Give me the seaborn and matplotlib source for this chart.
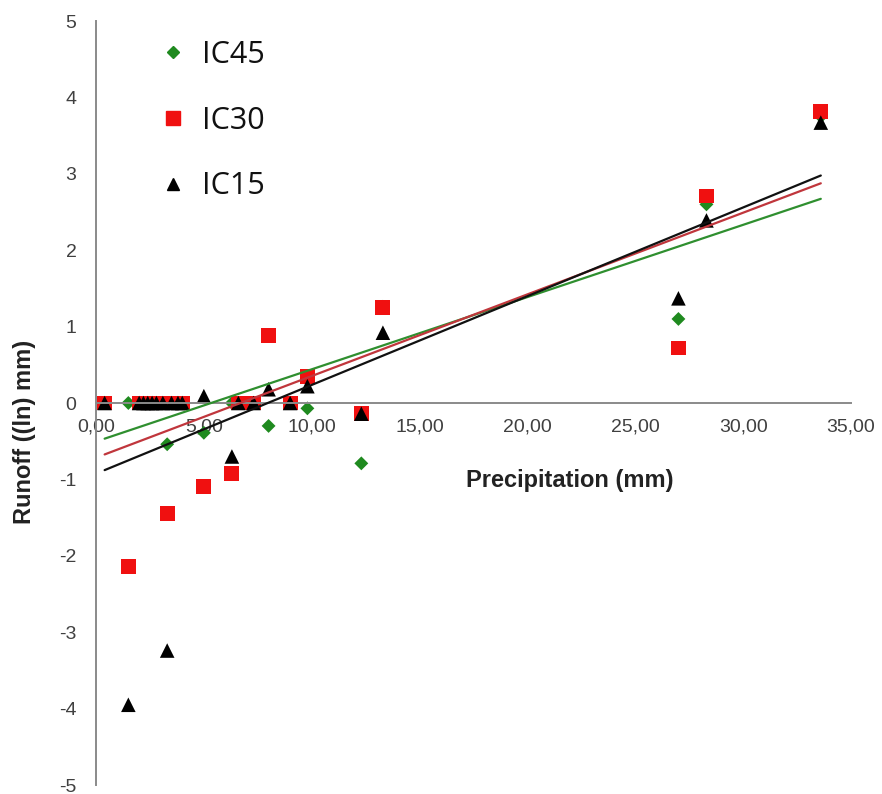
import numpy as np
import pandas as pd
import matplotlib
matplotlib.use("Agg")
import matplotlib.pyplot as plt
from matplotlib.lines import Line2D
from matplotlib.ticker import FuncFormatter
import seaborn as sns

# ---- data ----
precipitation = [0.4, 1.5, 2.0, 2.2, 2.4, 2.6, 2.8, 3.1, 3.3, 3.5, 3.8, 4.0,
                 5.0, 6.3, 6.6, 7.3, 8.0, 9.0, 9.8, 12.3, 13.3, 27.0, 28.3, 33.6]
ic45 = [0, 0, 0, 0, 0, 0, 0, 0, -0.54, 0, 0, 0,
        -0.39, 0, 0, 0, -0.30, 0, -0.07, -0.79, 1.26, 1.10, 2.60, 3.75]
ic30 = [0, -2.14, 0, 0, 0, 0, 0, 0, -1.45, 0, 0, 0,
        -1.09, -0.92, 0, 0, 0.88, 0, 0.35, -0.14, 1.25, 0.72, 2.71, 3.82]
ic15 = [0, -3.95, 0, 0, 0, 0, 0, 0, -3.24, 0, 0, 0,
        0.09, -0.70, 0, 0, 0.18, 0, 0.22, -0.14, 0.92, 1.37, 2.39, 3.67]
series_names = ["IC45", "IC30", "IC15"]
x_ticks = [0, 5, 10, 15, 20, 25, 30, 35]
y_ticks = [-5, -4, -3, -2, -1, 0, 1, 2, 3, 4, 5]

marker_colors = {"IC45": "#1f8a1f", "IC30": "#f01010", "IC15": "#000000"}
line_colors = {"IC45": "#2f8f2f", "IC30": "#c0363c", "IC15": "#111111"}
markers = {"IC45": "D", "IC30": "s", "IC15": "^"}
sizes = {"IC45": 50, "IC30": 115, "IC15": 110}

df = pd.DataFrame({
    "Precipitation": precipitation * 3,
    "Runoff": ic45 + ic30 + ic15,
    "Series": sum([[n] * len(precipitation) for n in series_names], []),
})

sns.set_style("white")
plt.rcParams["font.family"] = ["Liberation Sans", "DejaVu Sans"]

fig = plt.figure(figsize=(8.82, 7.94), dpi=100)
ax = fig.add_axes([96 / 882, 1 - 785 / 794, 755 / 882, 764 / 794])

sns.scatterplot(data=df, x="Precipitation", y="Runoff", hue="Series", style="Series",
                size="Series", sizes=sizes, markers=markers, palette=marker_colors,
                hue_order=series_names, linewidth=0, legend=False, ax=ax, zorder=2)

for name, vals in zip(series_names, [ic45, ic30, ic15]):
    sns.regplot(x=np.array(precipitation), y=np.array(vals), scatter=False, ci=None,
                truncate=True, color=line_colors[name], line_kws={"lw": 1.6, "zorder": 3},
                ax=ax)

ax.set_xlim(0, 35)
ax.set_ylim(-5, 5)
ax.set_xticks(x_ticks)
ax.set_yticks(y_ticks)
ax.xaxis.set_major_formatter(FuncFormatter(lambda v, p: f"{v:.2f}".replace(".", ",")))
ax.yaxis.set_major_formatter(FuncFormatter(lambda v, p: f"{int(v)}"))

for s in ["top", "right"]:
    ax.spines[s].set_visible(False)
ax.spines["left"].set_position(("data", 0))
ax.spines["bottom"].set_position(("data", 0))
for s in ["left", "bottom"]:
    ax.spines[s].set_color("#8a8a8a")
    ax.spines[s].set_linewidth(1.4)
ax.tick_params(axis="both", direction="out", length=7, width=1.2, color="#8a8a8a",
               labelsize=14, labelcolor="#404040")
ax.tick_params(axis="y", pad=7)
ax.tick_params(axis="x", pad=4)

ax.set_xlabel("Precipitation (mm)", fontsize=17, fontweight="bold", color="#222222",
              va="center")
ax.xaxis.set_label_coords((570 - 96) / 755, (785 - 480) / 764)
ax.set_ylabel("Runoff ((ln) mm)", fontsize=17, fontweight="bold", color="#222222",
              va="center")
ax.yaxis.set_label_coords((25 - 96) / 755, (785 - 432) / 764)

handles = [Line2D([], [], linestyle="none", marker="D", markersize=6.5, color=marker_colors["IC45"]),
           Line2D([], [], linestyle="none", marker="s", markersize=9.5, color=marker_colors["IC30"]),
           Line2D([], [], linestyle="none", marker="^", markersize=8.5, color=marker_colors["IC15"])]
leg = ax.legend(handles, series_names, loc="upper left", bbox_to_anchor=(158 / 882, 1 - 40 / 794),
                bbox_transform=fig.transFigure, frameon=False, handlelength=1.0,
                handletextpad=0.45, labelspacing=1.17, borderpad=0, borderaxespad=0,
                prop={"family": ["Open Sans", "DejaVu Sans"], "size": 22})
for t in leg.get_texts():
    t.set_color("#111111")

fig.savefig("out.png", dpi=100)
